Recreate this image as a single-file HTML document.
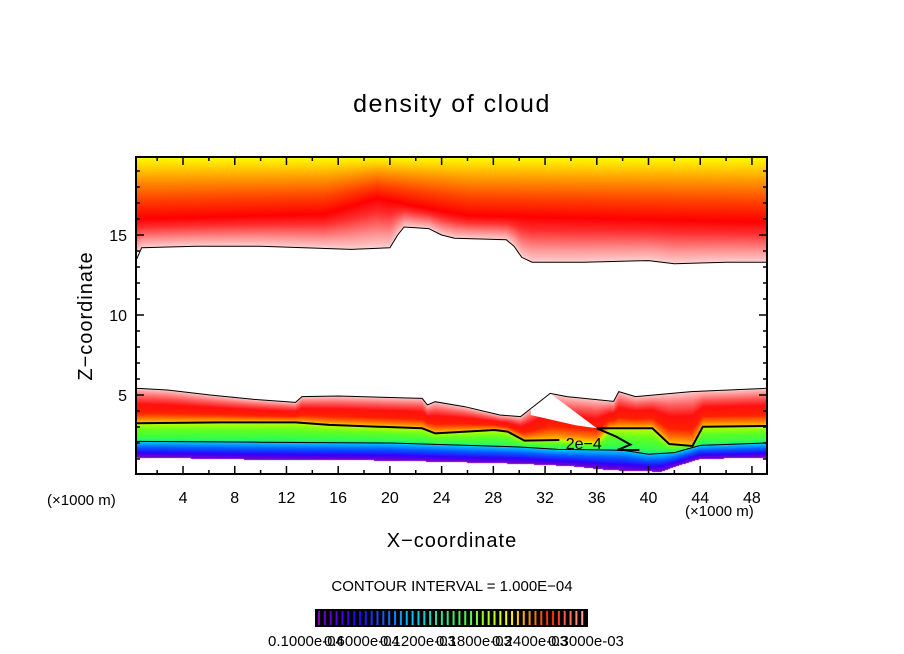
<!DOCTYPE html>
<html><head><meta charset="utf-8">
<style>
body{margin:0;background:#fff;}
#wrap{position:relative;width:904px;height:654px;overflow:hidden;background:#fff;font-family:"Liberation Sans",sans-serif;}
canvas{position:absolute;left:0;top:0;}
svg{position:absolute;left:0;top:0;}
</style></head>
<body>
<div id="wrap">
<canvas id="field" width="904" height="654"></canvas>
<svg id="ov" width="904" height="654">
  <text x="452" y="112" text-anchor="middle" font-size="25" letter-spacing="1.5">density of cloud</text>
  <text x="452" y="547" text-anchor="middle" font-size="20" letter-spacing="1">X−coordinate</text>
  <text transform="translate(92,316) rotate(-90)" text-anchor="middle" font-size="20" letter-spacing="1">Z−coordinate</text>
  <text x="47" y="505" font-size="15">(×1000 m)</text>
  <text x="685" y="516" font-size="15">(×1000 m)</text>
  <text x="452" y="591" text-anchor="middle" font-size="15">CONTOUR INTERVAL = 1.000E−04</text>
  <g id="axes"></g>
  <g id="cbar"></g>
</svg>
</div>
<script>
// ---- data (km) ----
const upperBottomX=[0,0.8,5,10,17,20,20.6,21.1,23,24,25,29,29.6,30.2,31,35,40,42,46,50];
const upperBottomZ=[13.4,14.2,14.3,14.3,14.1,14.2,15.0,15.5,15.4,15.0,14.8,14.7,14.3,13.6,13.3,13.3,13.4,13.2,13.3,13.3];
const redX=[0,15,19,22,26,50];
const redZ=[16.0,16.3,17.3,16.8,16.2,15.8];
const lowerTopX=[0,2.8,6.1,9.4,12.7,13.2,16,22.5,22.9,23.5,25.8,28.5,30.1,32.4,33.7,37.3,37.7,39,43.3,50];
const lowerTopZ=[5.42,5.31,5.0,4.73,4.54,4.9,4.94,4.79,4.38,4.58,4.27,3.75,3.65,5.1,4.9,4.6,5.21,4.9,5.21,5.42];
const wedgeX=[30.1,30.9,30.9,34.4,36,32.4,30.1];
const wedgeZ=[3.65,4.17,3.75,3.1,2.92,5.1,5.2];
const contX=[0,6.9,12.7,15.3,22.5,23.5,28.1,29.1,30.4,33.1,36,37,40.3,41.6,43.4,44.2,50];
const contZ=[3.23,3.29,3.29,3.13,2.92,2.6,2.81,2.71,2.15,2.19,2.0,2.9,2.92,1.94,1.81,3.02,3.06];
const contLineAX=[0,6.9,12.7,15.3,22.5,23.5,28.1,29.1,30.4,33.1];
const contLineAZ=[3.23,3.29,3.29,3.13,2.92,2.6,2.81,2.71,2.15,2.19];
const contLineBX=[36,40.3,41.6,43.4,44.2,50];
const contLineBZ=[2.92,2.92,1.94,1.81,3.02,3.06];
const contLineCX=[36,37.5,38.6,37.6,39.3];
const contLineCZ=[2.92,2.4,1.9,1.56,1.56];
const blueX=[0,10,20,30,33,38,40,42,44,50];
const blueZ=[2.1,2.05,2.0,1.75,1.6,1.55,1.3,1.4,1.85,2.0];
const botX=[0,10,20,30,34,37,41,42,44,50];
const botZ=[1.1,0.95,0.9,0.7,0.55,0.3,0.2,0.5,1.0,1.1];
const xTicks=[4,8,12,16,20,24,28,32,36,40,44,48];
const zTicks=[5,10,15];
const cbarLabels=["0.1000e-04","0.6000e-04","0.1200e-03","0.1800e-03","0.2400e-03","0.3000e-03"];

// ---- axes functions ----
const X0=136,X1=767,Y0=157,Y1=474;
const XS=12.93,XO=131.3;
const xp=x=>XO+XS*x;
const zp=z=>475-16*z;
function interp(xs,ys,x){
  if(x<=xs[0])return ys[0];
  for(let i=1;i<xs.length;i++){ if(x<=xs[i]){const t=(x-xs[i-1])/(xs[i]-xs[i-1]);return ys[i-1]+t*(ys[i]-ys[i-1]);} }
  return ys[ys.length-1];
}
function hex(h){return [parseInt(h.substr(1,2),16),parseInt(h.substr(3,2),16),parseInt(h.substr(5,2),16)];}
function grad(stops,t){
  t=Math.max(0,Math.min(1,t));
  for(let i=1;i<stops.length;i++){ if(t<=stops[i][0]){const a=hex(stops[i-1][1]),b=hex(stops[i][1]);const u=(t-stops[i-1][0])/(stops[i][0]-stops[i-1][0]||1);return [a[0]+(b[0]-a[0])*u,a[1]+(b[1]-a[1])*u,a[2]+(b[2]-a[2])*u];} }
  return hex(stops[stops.length-1][1]);
}
const sUpLow=[[0,'#ffd0d0'],[0.3,'#ff9090'],[0.7,'#ff3030'],[1,'#ff0000']];
const sUpHigh=[[0,'#ff0000'],[0.3,'#ff4000'],[0.6,'#ff9000'],[0.85,'#ffd800'],[1,'#ffff00']];
const sRed=[[0,'#ffd000'],[0.12,'#ff8000'],[0.3,'#ff2000'],[0.55,'#ff1010'],[0.75,'#ff5a5a'],[1,'#ffc8c8']];
const sGreen=[[0,'#20e0a0'],[0.15,'#30ff50'],[0.6,'#60ff20'],[1,'#c0ff00']];
const sBlue=[[0,'#8000c0'],[0.3,'#3000ff'],[0.65,'#0060ff'],[1,'#00d0ff']];

const cv=document.getElementById('field');const ctx=cv.getContext('2d');
const img=ctx.createImageData(X1-X0,Y1-Y0);
for(let px=0;px<X1-X0;px++){
  const x=(X0+px+0.5-XO)/XS;
  const U=interp(upperBottomX,upperBottomZ,x),R=interp(redX,redZ,x);
  const T=interp(lowerTopX,lowerTopZ,x),C=interp(contX,contZ,x),B=interp(blueX,blueZ,x),Bo=interp(botX,botZ,x);
  for(let py=0;py<Y1-Y0;py++){
    const z=(475-(Y0+py+0.5))/16;
    let c=[255,255,255];
    if(z>=U){ c = z<R? grad(sUpLow,(z-U)/(R-U)) : grad(sUpHigh,(z-R)/(19.9-R)); }
    else if(z<=T && z>=Bo){
      if(z>=C)c=grad(sRed,(z-C)/(T-C));
      else if(z>=B)c=grad(sGreen,(z-B)/(C-B));
      else c=grad(sBlue,(z-Bo)/(B-Bo));
    }
    const i=(py*(X1-X0)+px)*4;img.data[i]=c[0];img.data[i+1]=c[1];img.data[i+2]=c[2];img.data[i+3]=255;
  }
}
ctx.putImageData(img,X0,Y0);

const NS='http://www.w3.org/2000/svg';
const ov=document.getElementById('ov');const axes=document.getElementById('axes');
function mk(tag,attrs,parent){const e=document.createElementNS(NS,tag);for(const k in attrs)e.setAttribute(k,attrs[k]);(parent||ov).appendChild(e);return e;}
function pts(xs,zs){return xs.map((x,i)=>Math.max(X0,Math.min(X1,xp(x))).toFixed(1)+','+zp(zs[i]).toFixed(1)).join(' ');}

const clip=mk('clipPath',{id:'pc'},axes);
mk('rect',{x:X0,y:Y0,width:X1-X0,height:Y1-Y0},clip);
const g=mk('g',{'clip-path':'url(#pc)'},axes);
let w=mk('polygon',{points:pts(wedgeX,wedgeZ),fill:'#fff'},g);


const lines=[[upperBottomX,upperBottomZ,1,'upper-cloud-edge'],[lowerTopX,lowerTopZ,1,'lower-cloud-edge'],[blueX,blueZ,1,'contour-1e-4'],
  [contLineAX,contLineAZ,2,'contour-2e-4-a'],[contLineBX,contLineBZ,2,'contour-2e-4-b'],[contLineCX,contLineCZ,2,'contour-2e-4-c']];
lines.forEach(l=>{
  const e=mk('polyline',{points:pts(l[0],l[1]),fill:'none',stroke:'#000','stroke-width':l[2]},g);
  
  
});
const lab=mk('text',{x:xp(33.6),y:zp(2.0)+6,'font-size':16},axes);lab.textContent='2e−4';



const fr=mk('rect',{x:X0,y:Y0,width:X1-X0,height:Y1-Y0,fill:'none',stroke:'#000','stroke-width':2},axes);


for(let x=2;x<50;x+=2){
  const L=(x%4===0)?8:4;
  mk('line',{x1:xp(x),y1:Y1,x2:xp(x),y2:Y1-L,stroke:'#000','stroke-width':1.5},axes);
  mk('line',{x1:xp(x),y1:Y0,x2:xp(x),y2:Y0+L,stroke:'#000','stroke-width':1.5},axes);
}
xTicks.forEach(v=>{
  const t=mk('text',{x:xp(v),y:503,'text-anchor':'middle','font-size':16},axes);t.textContent=v;
  
  
});
for(let z=1;z<20;z++){
  const L=(z%5===0)?8:4;
  mk('line',{x1:X0,y1:zp(z),x2:X0+L,y2:zp(z),stroke:'#000','stroke-width':1.5},axes);
  mk('line',{x1:X1,y1:zp(z),x2:X1-L,y2:zp(z),stroke:'#000','stroke-width':1.5},axes);
}
zTicks.forEach(v=>{
  const t=mk('text',{x:127,y:zp(v)+6,'text-anchor':'end','font-size':16},axes);t.textContent=v;
  
  
});

// colorbar
const cb=document.getElementById('cbar');
mk('rect',{x:315,y:609,width:273,height:18,fill:'#000'},cb);
const cbStops=[[0,'#8000c0'],[0.15,'#2000ff'],[0.35,'#00c0ff'],[0.55,'#40ff40'],[0.72,'#ffff00'],[0.88,'#ff2000'],[1,'#ffa0a0']];
for(let i=0;i<46;i++){
  const c=grad(cbStops,i/45);
  mk('rect',{x:318+i*5.85,y:611,width:2,height:14,fill:'rgb('+c.map(Math.round).join(',')+')'},cb);
}
cbarLabels.forEach((s,i)=>{
  const t=mk('text',{x:268+i*56,y:646,'font-size':15},cb);t.textContent=s;
  
  
});
</script>
</body></html>
